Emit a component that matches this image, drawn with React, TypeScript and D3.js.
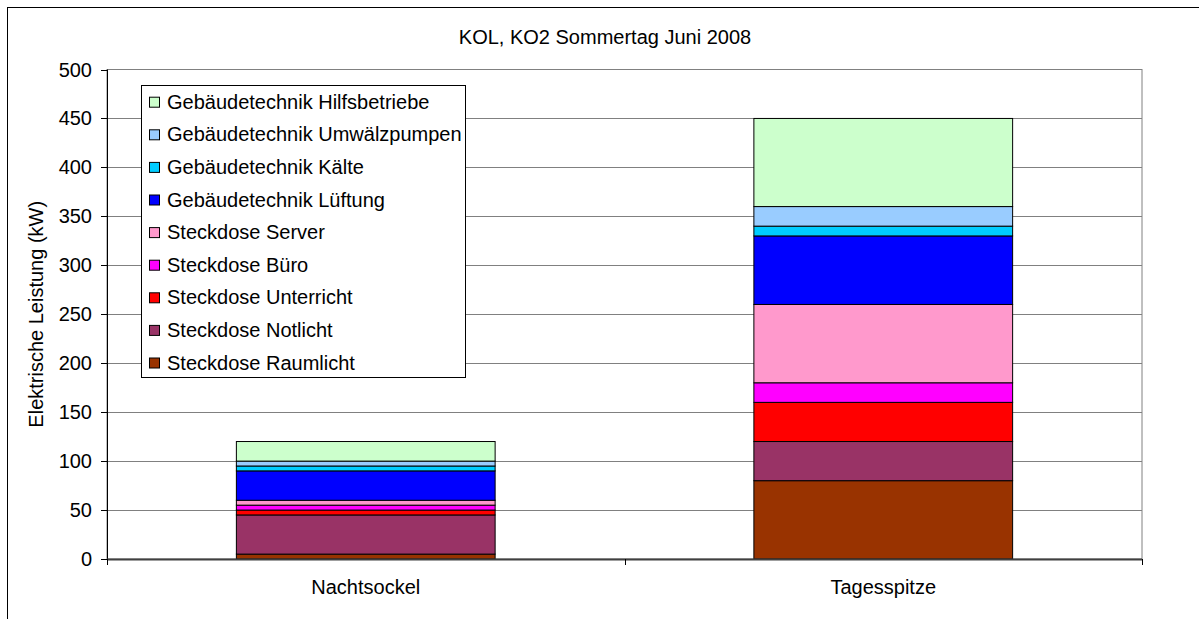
import React from "react";
import * as d3 from "d3";

const categories = ["Nachtsockel", "Tagesspitze"];
const seriesNames = [
  "Steckdose Raumlicht",
  "Steckdose Notlicht",
  "Steckdose Unterricht",
  "Steckdose Büro",
  "Steckdose Server",
  "Gebäudetechnik Lüftung",
  "Gebäudetechnik Kälte",
  "Gebäudetechnik Umwälzpumpen",
  "Gebäudetechnik Hilfsbetriebe",
];
const seriesColors = [
  "#993300",
  "#993366",
  "#FF0000",
  "#FF00FF",
  "#FF99CC",
  "#0000FF",
  "#00CCFF",
  "#99CCFF",
  "#CCFFCC",
];
// values per series: [Nachtsockel, Tagesspitze]
const raumlicht = [5, 80];
const notlicht = [40, 40];
const unterricht = [5, 40];
const buero = [5, 20];
const server = [5, 80];
const lueftung = [30, 70];
const kaelte = [5, 10];
const umwaelz = [5, 20];
const hilfs = [20, 90];
const seriesValues = [raumlicht, notlicht, unterricht, buero, server, lueftung, kaelte, umwaelz, hilfs];
const yTicks = [0, 50, 100, 150, 200, 250, 300, 350, 400, 450, 500];
const title = "KOL, KO2 Sommertag Juni 2008";
const yLabel = "Elektrische Leistung (kW)";

const W = 1199;
const H = 619;
const left = 107;
const right = 1142;
const top = 69.5;
const bottom = 559;
const FONT = "'Liberation Sans', Arial, sans-serif";

export default function App() {
  const x = d3.scaleBand<string>().domain(categories).range([left, right]).paddingInner(0.5).paddingOuter(0.25);
  const y = d3.scaleLinear().domain([0, 500]).range([bottom, top]);

  const rows = categories.map((c, i) => {
    const r: any = { cat: c };
    seriesNames.forEach((s, j) => (r[s] = seriesValues[j][i]));
    return r;
  });
  const stacked = d3.stack<any>().keys(seriesNames)(rows);

  const legendItems = [...seriesNames].map((n, i) => ({ n, c: seriesColors[i] })).reverse();

  return (
    <svg width={W} height={H} style={{ position: "absolute", left: 0, top: 0 }} fontFamily={FONT}>
      <rect x={0} y={0} width={W} height={H} fill="#fff" />
      <rect x={7.5} y={7.5} width={1300} height={700} fill="#fff" stroke="#000" strokeWidth={1} />
      <text x={605} y={44} textAnchor="middle" fontSize={20} fill="#000">{title}</text>
      {/* plot area */}
      <rect x={left} y={top} width={right - left} height={bottom - top} fill="#fff" stroke="#808080" strokeWidth={1} />
      {yTicks.filter((t) => t > 0 && t < 500).map((t) => (
        <line key={t} x1={left} x2={right} y1={Math.round(y(t)) + 0.5} y2={Math.round(y(t)) + 0.5} stroke="#808080" strokeWidth={1} />
      ))}
      {/* bars */}
      {stacked.map((s, j) =>
        s.map((d, i) => (
          <rect
            key={j + "-" + i}
            x={x(categories[i])!}
            y={y(d[1])}
            width={x.bandwidth()}
            height={y(d[0]) - y(d[1])}
            fill={seriesColors[j]}
            stroke="#000"
            strokeWidth={1}
          />
        ))
      )}
      {/* axes */}
      <line x1={left + 0.5} x2={left + 0.5} y1={top} y2={bottom} stroke="#000" strokeWidth={1} />
      {yTicks.map((t) => (
        <g key={t}>
          <line x1={left - 6} x2={left} y1={Math.round(y(t)) + 0.5} y2={Math.round(y(t)) + 0.5} stroke="#000" strokeWidth={1} />
          <text x={92} y={y(t) + 7} textAnchor="end" fontSize={20} fill="#000">{t}</text>
        </g>
      ))}
      <line x1={left} x2={right} y1={bottom + 0.5} y2={bottom + 0.5} stroke="#404040" strokeWidth={2} />
      {[left, (left + right) / 2, right].map((v) => (
        <line key={v} x1={Math.round(v) + 0.5} x2={Math.round(v) + 0.5} y1={bottom} y2={bottom + 6} stroke="#000" strokeWidth={1} />
      ))}
      {categories.map((c) => (
        <text key={c} x={x(c)! + x.bandwidth() / 2} y={594} textAnchor="middle" fontSize={20} fill="#000">{c}</text>
      ))}
      <text transform={`translate(43,${(top + bottom) / 2}) rotate(-90)`} textAnchor="middle" fontSize={20} fill="#000">{yLabel}</text>
      {/* legend */}
      <rect x={141.5} y={85.5} width={324} height={292} fill="#fff" stroke="#000" strokeWidth={1} />
      {legendItems.map((it, i) => {
        const cy = 101.7 + i * 32.6;
        return (
          <g key={it.n}>
            <rect x={149.5} y={cy - 4.5} width={10} height={10} fill={it.c} stroke="#000" strokeWidth={1} />
            <text x={167} y={cy + 7} fontSize={20} fill="#000">{it.n}</text>
          </g>
        );
      })}
    </svg>
  );
}
